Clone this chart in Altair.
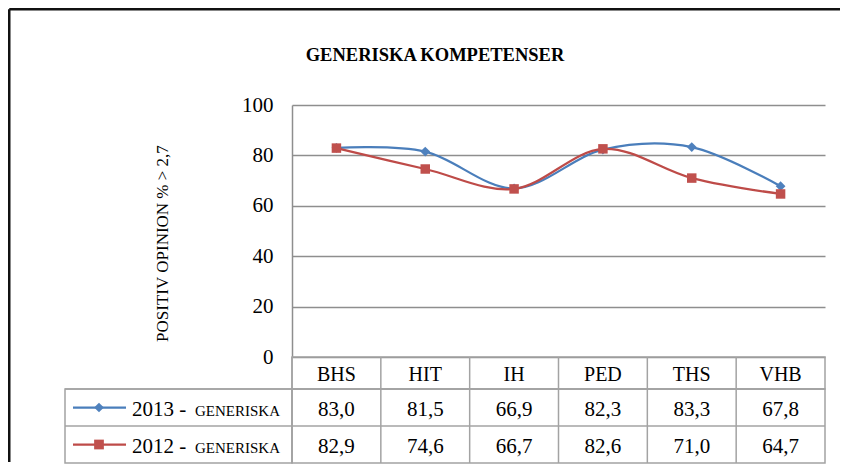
import altair as alt
import pandas as pd

# ---------------- data ----------------
cats = ["BHS", "HIT", "IH", "PED", "THS", "VHB"]
years = ["2013", "2012"]
v2013 = [83.0, 81.5, 66.9, 82.3, 83.3, 67.8]
v2012 = [82.9, 74.6, 66.7, 82.6, 71.0, 64.7]
series_suffix = "GENERISKA"
y_ticks = [0, 20, 40, 60, 80, 100]
chart_title = "GENERISKA KOMPETENSER"
y_title = "POSITIV OPINION % > 2,7"

line_colors = ["#4A7EBB", "#BE4B48"]
mark_colors = ["#4F81BD", "#C0504D"]
shapes = ["diamond", "square"]

values = {"2013": v2013, "2012": v2012}
df = pd.DataFrame(
    [{"cat": c, "year": y, "v": v} for y in years for c, v in zip(cats, values[y])]
)
cat_df = pd.DataFrame({"cat": cats})
year_df = pd.DataFrame({"year": years, "suffix": [series_suffix] * len(years)})
one = pd.DataFrame({"k": [0]})

# ---------------- layout constants ----------------
FONT = "Liberation Serif"
W = 533
H_PLOT = 252
LEG_W = 227
HDR_H = 32
ROWS_H = 74
GRID = "#8E8E8E"
TABLE = "#A3A3A3"

xs_point = alt.Scale(type="point", domain=cats, padding=0.5)
xs_band = alt.Scale(type="band", domain=cats, paddingInner=0, paddingOuter=0)
ys = alt.Scale(domain=[0, 100])
ys_rows = alt.Scale(type="band", domain=years, paddingInner=0, paddingOuter=0)
col_scale = alt.Scale(domain=years, range=mark_colors)
shape_scale = alt.Scale(domain=years, range=shapes)

y_enc = alt.Y(
    "v:Q",
    scale=ys,
    axis=alt.Axis(
        values=y_ticks,
        grid=True,
        gridColor=GRID,
        gridWidth=1.5,
        domainColor=GRID,
        domainWidth=1.5,
        ticks=False,
        labelFont=FONT,
        labelFontSize=21,
        labelColor="black",
        labelPadding=19,
        title=y_title,
        titleFont=FONT,
        titleFontSize=17,
        titleFontWeight="normal",
        titleColor="black",
        titleAngle=270,
        titleX=-130,
        titleY=138,
        titleAlign="center",
        titleBaseline="middle",
    ),
)
x_enc = alt.X("cat:N", scale=xs_point, axis=None)

layers = []
# frame (top and left edges)
layers.append(
    alt.Chart(one).mark_rule(color="#111111", strokeWidth=2.5).encode(
        x=alt.value(-282.75), x2=alt.value(548), y=alt.value(-95.75)
    )
)
layers.append(
    alt.Chart(one).mark_rule(color="#111111", strokeWidth=2.5).encode(
        x=alt.value(-282.75), y=alt.value(-95.75), y2=alt.value(357)
    )
)
# title
layers.append(
    alt.Chart(one).mark_text(
        text=chart_title, font=FONT, fontSize=18.5, fontWeight="bold",
        align="center", baseline="alphabetic", color="black"
    ).encode(x=alt.value(143), y=alt.value(-44))
)
for i, yr in enumerate(years):
    base = alt.Chart(df).transform_filter(alt.datum.year == yr)
    layers.append(
        base.mark_line(interpolate="cardinal", color=line_colors[i], strokeWidth=2.25)
        .encode(x=x_enc, y=y_enc)
    )
    layers.append(
        base.mark_point(shape=shapes[i], filled=True, size=95 if i == 0 else 90,
                        color=mark_colors[i], opacity=1)
        .encode(x=x_enc, y=y_enc)
    )

top = alt.layer(*layers).properties(width=W, height=H_PLOT)

spacer = alt.Chart(one).mark_text(text="").encode(
    x=alt.value(0), y=alt.value(0)
).properties(width=LEG_W, height=H_PLOT)

blank = alt.Chart(one).mark_text(text="").encode(
    x=alt.value(0), y=alt.value(0)
).properties(width=LEG_W, height=HDR_H)

table_view = alt.ViewBackground(stroke=TABLE, strokeWidth=1.5)

# header row with category names
hdr_rules = alt.Chart(cat_df).mark_rule(color=TABLE, strokeWidth=1.5).encode(
    x=alt.X("cat:N", scale=xs_band, axis=None, bandPosition=0)
)
hdr_text = alt.Chart(cat_df).mark_text(
    font=FONT, fontSize=20, color="black", baseline="middle", dy=2
).encode(
    x=alt.X("cat:N", scale=xs_band, axis=None),
    y=alt.value(HDR_H / 2),
    text="cat:N",
)
header = alt.layer(hdr_rules, hdr_text).properties(
    width=W, height=HDR_H, view=table_view
)

# value rows
val_vrules = alt.Chart(cat_df).mark_rule(color=TABLE, strokeWidth=1.5).encode(
    x=alt.X("cat:N", scale=xs_band, axis=None, bandPosition=0)
)
val_hrules = alt.Chart(year_df).mark_rule(color=TABLE, strokeWidth=1.5).encode(
    y=alt.Y("year:N", scale=ys_rows, axis=None, bandPosition=0)
)
val_text = alt.Chart(df).transform_calculate(
    lbl="replace(format(datum.v, '.1f'), '.', ',')"
).mark_text(font=FONT, fontSize=21, color="black", baseline="middle", dy=2).encode(
    x=alt.X("cat:N", scale=xs_band, axis=None),
    y=alt.Y("year:N", scale=ys_rows, axis=None),
    text="lbl:N",
)
vals = alt.layer(val_vrules, val_hrules, val_text).properties(
    width=W, height=ROWS_H, view=table_view
)

# legend column
leg_hrule = alt.Chart(year_df).mark_rule(color=TABLE, strokeWidth=1.5).encode(
    y=alt.Y("year:N", scale=ys_rows, axis=None, bandPosition=0)
)
leg_line = alt.Chart(year_df).mark_rule(strokeWidth=2.25).encode(
    x=alt.value(8), x2=alt.value(61),
    y=alt.Y("year:N", scale=ys_rows, axis=None),
    color=alt.Color("year:N", scale=alt.Scale(domain=years, range=line_colors), legend=None),
)
leg_pt = alt.Chart(year_df).mark_point(filled=True, size=95, opacity=1).encode(
    x=alt.value(34),
    y=alt.Y("year:N", scale=ys_rows, axis=None),
    shape=alt.Shape("year:N", scale=shape_scale, legend=None),
    fill=alt.Fill("year:N", scale=col_scale, legend=None),
)
leg_year = alt.Chart(year_df).transform_calculate(t="datum.year + ' - '").mark_text(
    font=FONT, fontSize=21, color="black", align="left", baseline="alphabetic", dy=8
).encode(
    x=alt.value(67),
    y=alt.Y("year:N", scale=ys_rows, axis=None),
    text="t:N",
)
leg_suffix = alt.Chart(year_df).mark_text(
    font=FONT, fontSize=15, color="black", align="left", baseline="alphabetic", dy=8
).encode(
    x=alt.value(130),
    y=alt.Y("year:N", scale=ys_rows, axis=None),
    text="suffix:N",
)
legend_col = alt.layer(leg_hrule, leg_line, leg_pt, leg_year, leg_suffix).properties(
    width=LEG_W, height=ROWS_H, view=table_view
).resolve_scale(color="independent")

chart = alt.concat(
    spacer, top, blank, header, legend_col, vals,
    columns=2, spacing=0, bounds="flush",
).properties(
    padding={"left": 0, "top": 0, "right": 0, "bottom": 0}
).configure_view(stroke=None).configure_text(font=FONT).configure_axis(
    labelFont=FONT, titleFont=FONT
)

chart.save("out.html", embed_options={"renderer": "svg", "actions": False})
